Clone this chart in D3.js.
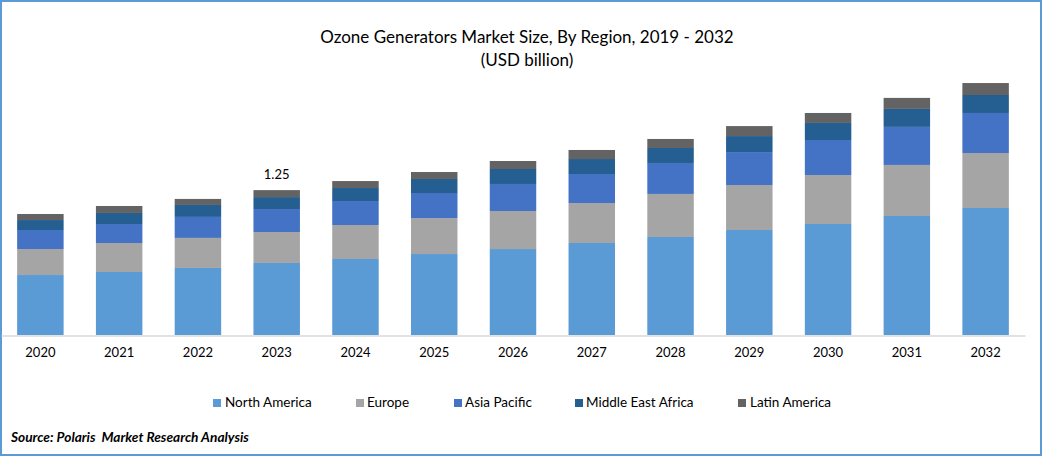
<!DOCTYPE html>
<html>
<head>
<meta charset="utf-8">
<script src="https://cdn.jsdelivr.net/npm/d3@7"></script>
<style>
  html, body { margin: 0; padding: 0; background: #fff; }
  svg { display: block; font-family: Lato, sans-serif; }
  .domain { stroke: #d9d9d9; stroke-width: 1.5; }
</style>
</head>
<body>
<div id="chart"></div>
<script>
var width = 1042, height = 456;

var years = ["2020", "2021", "2022", "2023", "2024", "2025", "2026", "2027", "2028", "2029", "2030", "2031", "2032"];
var regions = ["North America", "Europe", "Asia Pacific", "Middle East Africa", "Latin America"];
var colors = ["#5b9bd5", "#a5a5a5", "#4472c4", "#255e91", "#636363"];

// USD billion
var northAmerica = [0.517, 0.543, 0.578, 0.621, 0.655, 0.698, 0.741, 0.793, 0.845, 0.905, 0.957, 1.026, 1.095];
var europe = [0.224, 0.25, 0.259, 0.267, 0.293, 0.31, 0.328, 0.345, 0.371, 0.388, 0.422, 0.44, 0.474];
var asiaPacific = [0.164, 0.164, 0.181, 0.198, 0.207, 0.216, 0.233, 0.25, 0.267, 0.284, 0.302, 0.328, 0.345];
var middleEastAfrica = [0.086, 0.095, 0.103, 0.103, 0.112, 0.121, 0.129, 0.129, 0.129, 0.138, 0.147, 0.155, 0.155];
var latinAmerica = [0.052, 0.06, 0.052, 0.06, 0.06, 0.06, 0.069, 0.078, 0.078, 0.086, 0.086, 0.095, 0.103];

var seriesValues = [northAmerica, europe, asiaPacific, middleEastAfrica, latinAmerica];

var svg = d3.select("#chart").append("svg")
  .attr("width", width)
  .attr("height", height);

// frame
svg.append("rect")
  .attr("x", 1)
  .attr("y", 1)
  .attr("width", width - 2)
  .attr("height", height - 2)
  .style("fill", "#fff")
  .style("stroke", "#5b9bd5")
  .style("stroke-width", 2);

// title
svg.append("text")
  .attr("x", 527)
  .attr("y", 43)
  .attr("text-anchor", "middle")
  .style("font-size", "17px")
  .style("fill", "#000")
  .text("Ozone Generators Market Size, By Region, 2019 - 2032");
svg.append("text")
  .attr("x", 527)
  .attr("y", 66)
  .attr("text-anchor", "middle")
  .style("font-size", "17px")
  .style("fill", "#000")
  .text("(USD billion)");

var x = d3.scaleBand()
  .domain(years)
  .range([1, 1025])
  .paddingInner(0.41)
  .paddingOuter(0.205);

var y = d3.scaleLinear()
  .domain([0, 2.25])
  .range([335, 74]);

// stack the region arrays
var table = years.map(function (year, i) {
  var row = { year: year };
  regions.forEach(function (name, s) {
    row[name] = seriesValues[s][i];
  });
  return row;
});
var stacked = d3.stack().keys(regions)(table);

svg.selectAll("g.series")
  .data(stacked)
  .enter()
  .append("g")
  .attr("class", "series")
  .style("fill", function (d, i) { return colors[i]; })
  .selectAll("rect")
  .data(function (d) { return d; })
  .enter()
  .append("rect")
  .attr("x", function (d) { return x(d.data.year); })
  .attr("y", function (d) { return y(d[1]); })
  .attr("width", x.bandwidth())
  .attr("height", function (d) { return y(d[0]) - y(d[1]); });

// x axis
var axis = svg.append("g")
  .attr("transform", "translate(0,335.5)")
  .call(d3.axisBottom(x).tickSize(0).tickPadding(12));
axis.selectAll("text")
  .style("font-family", "Lato, sans-serif")
  .style("font-size", "13px")
  .style("fill", "#000");

// the one data label
var labelYear = "2023";
var labelValue = "1.25";
var labelTop = d3.sum(seriesValues, function (s) { return s[years.indexOf(labelYear)]; });
svg.append("text")
  .attr("x", x(labelYear) + x.bandwidth() / 2)
  .attr("y", y(labelTop) - 11)
  .attr("text-anchor", "middle")
  .style("font-size", "13px")
  .style("fill", "#000")
  .text(labelValue);

// legend
var legendX = [213, 356, 454, 575, 738];
var legendTextX = [12, 11, 11, 11, 12];
var legend = svg.selectAll("g.legend")
  .data(regions)
  .enter()
  .append("g")
  .attr("class", "legend")
  .attr("transform", function (d, i) { return "translate(" + legendX[i] + ",399)"; });
legend.append("rect")
  .attr("width", 8)
  .attr("height", 8)
  .style("fill", function (d, i) { return colors[i]; });
legend.append("text")
  .attr("x", function (d, i) { return legendTextX[i]; })
  .attr("y", 8)
  .style("font-size", "13.5px")
  .style("fill", "#000")
  .text(function (d) { return d; });

// source
svg.append("text")
  .attr("x", 11)
  .attr("y", 442)
  .style("font-size", "13.7px")
  .style("font-weight", "bold")
  .style("font-style", "italic")
  .style("fill", "#000")
  .attr("xml:space", "preserve")
  .text("Source: Polaris  Market Research Analysis");
</script>
</body>
</html>
